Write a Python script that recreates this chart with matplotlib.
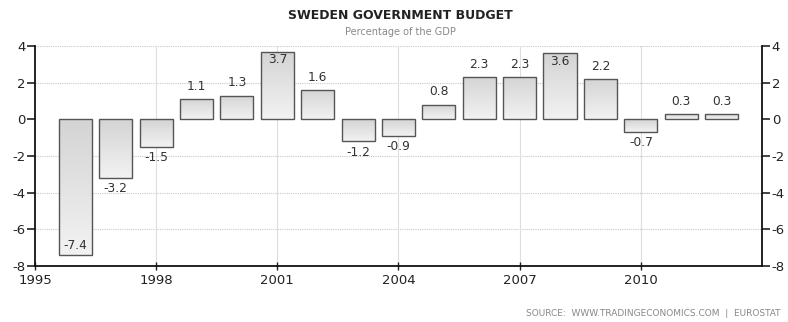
import numpy as np
import matplotlib
matplotlib.use("Agg")
import matplotlib.pyplot as plt
from matplotlib.colors import LinearSegmentedColormap

years = [1996, 1997, 1998, 1999, 2000, 2001, 2002, 2003, 2004,
         2005, 2006, 2007, 2008, 2009, 2010, 2011, 2012]
budget = [-7.4, -3.2, -1.5, 1.1, 1.3, 3.7, 1.6, -1.2, -0.9,
          0.8, 2.3, 2.3, 3.6, 2.2, -0.7, 0.3, 0.3]
x_ticks = [1995, 1998, 2001, 2004, 2007, 2010]
y_ticks = [-8, -6, -4, -2, 0, 2, 4]

plt.rcParams['font.family'] = ['DejaVu Sans']

fig = plt.figure(figsize=(7.88, 3.22), dpi=100)
ax = fig.add_axes([0.0444, 0.174, 0.9226, 0.683])
ax.set_xlim(1995, 2013)
ax.set_ylim(-8, 4)

# grid
for yv in [-6, -4, -2, 2, 4]:
    ax.axhline(yv, color='#c8c8c8', lw=0.8, ls=(0, (1, 1)), zorder=0)
for xv in x_ticks[1:]:
    ax.axvline(xv, color='#dedede', lw=0.8, zorder=0)

cmap = LinearSegmentedColormap.from_list('bargrad', ['#f2f2f2', '#d4d4d4'])
grad = np.linspace(0, 1, 128).reshape(-1, 1)

bars = ax.bar(years, budget, width=0.82, facecolor='none',
              edgecolor='#555555', linewidth=1.0, zorder=3)
for rect, v in zip(bars, budget):
    x0 = rect.get_x()
    w = rect.get_width()
    lo, hi = min(0, v), max(0, v)
    im = ax.imshow(grad, cmap=cmap, aspect='auto', origin='lower',
                   extent=[x0, x0 + w, lo, hi], zorder=2, interpolation='bicubic')
    im.set_clip_path(rect)

# value labels
lbl = dict(ha='center', fontsize=8.8, color='#333333', zorder=4,
           textcoords='offset points')
for yr, v in zip(years, budget):
    if v >= 0:
        if v + 0.9 < 4:
            ax.annotate(f"{v:.1f}", (yr, v), xytext=(0, 4.5), va='bottom', **lbl)
        else:
            ax.annotate(f"{v:.1f}", (yr, v), xytext=(0, -1), va='top', **lbl)
    else:
        if v - 0.9 > -8:
            ax.annotate(f"{v:.1f}", (yr, v), xytext=(0, -3), va='top', **lbl)
        else:
            ax.annotate(f"{v:.1f}", (yr, v), xytext=(0, 2), va='bottom', **lbl)

ax.set_xticks(x_ticks)
ax.set_xticklabels([str(t) for t in x_ticks])
ax.set_yticks(y_ticks)
ax.set_yticklabels([str(t) for t in y_ticks])
ax.tick_params(axis='y', which='both', left=True, right=True, labelleft=True,
               labelright=True, direction='out', length=6, width=1.2,
               labelsize=9.5, colors='#222222', pad=1)
ax.tick_params(axis='x', direction='inout', length=6, width=1.0,
               labelsize=9.5, colors='#222222', pad=3)

ax.spines['top'].set_visible(False)
for s in ['left', 'right', 'bottom']:
    ax.spines[s].set_color('#111111')
    ax.spines[s].set_linewidth(1.3)

fig.text(0.508, 0.953, "SWEDEN GOVERNMENT BUDGET", ha='center', va='center',
         fontsize=9, fontweight='bold', color='#222222')
fig.text(0.508, 0.900, "Percentage of the GDP", ha='center', va='center',
         fontsize=7, color='#888888')
fig.text(0.99, 0.025, "SOURCE:  WWW.TRADINGECONOMICS.COM  |  EUROSTAT",
         ha='right', va='center', fontsize=6.5, color='#888888')

fig.savefig("out.png", dpi=100)
